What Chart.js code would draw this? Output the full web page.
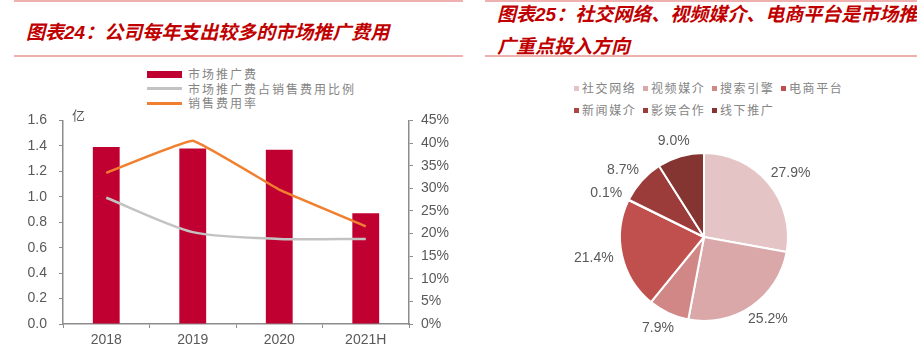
<!DOCTYPE html>
<html>
<head>
<meta charset="utf-8">
<script src="https://cdn.jsdelivr.net/npm/chart.js@4"></script>
<style>
  html, body { margin: 0; padding: 0; background: #fff; }
  body { width: 917px; height: 349px; position: relative; overflow: hidden; }
  .rule { position: absolute; height: 2px; background: #efb0b0; }
  .title {
    position: absolute; color: #c00000; font-size: 19px; line-height: 30px;
    font-family: "Noto Sans CJK SC", sans-serif; font-weight: 700; font-style: italic;
    white-space: nowrap;
  }
  .title b { font-family: "Liberation Sans", Arial, sans-serif; }
  canvas { position: absolute; }
  .legend {
    position: absolute; font-family: "Noto Sans CJK SC", sans-serif; font-size: 12px;
    color: #858585; letter-spacing: 2px;
  }
  #legend1 div { height: 14.5px; line-height: 14.5px; display: flex; align-items: center; }
  #legend1 i { display: inline-block; width: 35px; margin-right: 6px; }
  #legend2 { width: 300px; }
  #legend2 span { display: inline-block; width: 69px; height: 22px; line-height: 22px; white-space: nowrap; letter-spacing: 1.6px; }
  #legend2 i { display: inline-block; width: 5px; height: 5px; margin-right: 3px; vertical-align: 2px; }
</style>
</head>
<body>
<div class="rule" style="left:14px;top:0;width:449px"></div>
<div class="rule" style="left:485px;top:0;width:432px"></div>
<div class="rule" style="left:14px;top:55px;width:449px"></div>
<div class="rule" style="left:485px;top:55px;width:432px"></div>

<div class="title" style="left:26px;top:16px">图表<b>24</b>：公司每年支出较多的市场推广费用</div>
<div class="title" style="left:497px;top:-2px">图表<b>25</b>：社交网络、视频媒介、电商平台是市场推<br>广重点投入方向</div>

<div class="legend" id="legend1" style="left:147px;top:67px"></div>
<canvas id="combo" width="460" height="249" style="left:0;top:100px"></canvas>

<div class="legend" id="legend2" style="left:574px;top:77px"></div>
<canvas id="pie" width="377" height="229" style="left:540px;top:120px"></canvas>

<script>
// 市场推广费（亿元）与两条费用率曲线
const years = ['2018', '2019', '2020', '2021H'];
const promoCost = [1.39, 1.38, 1.37, 0.87];
const promoShareOfSales = [27.9, 20.3, 18.8, 18.8];
const salesExpenseRate = [33.4, 40.5, 29.7, 21.6];

// 市场推广投放方向（%）
const channels = ['社交网络', '视频媒介', '搜索引擎', '电商平台', '新闻媒介', '影娱合作', '线下推广'];
const channelShare = [27.9, 25.2, 7.9, 21.4, 0.1, 8.7, 9.0];
const channelColors = ['#e4c4c5', '#daa8a9', '#d08785', '#c0504d', '#ad4542', '#9c3c3a', '#843431'];

const axisGray = '#8c8c8c';
const labelGray = '#595959';
const tickFont = { family: '"Liberation Sans", Arial, sans-serif', size: 14 };

// 左轴单位
const unitLabel = {
  id: 'unitLabel',
  afterDraw(chart) {
    const { ctx, chartArea } = chart;
    ctx.save();
    ctx.fillStyle = labelGray;
    ctx.font = '13px "Noto Sans CJK SC"';
    ctx.textBaseline = 'middle';
    ctx.fillText('亿', chartArea.left + 9, chartArea.top - 5);
    ctx.restore();
  }
};

const combo = new Chart(document.getElementById('combo'), {
  type: 'bar',
  data: {
    labels: years,
    datasets: [
      {
        label: '市场推广费', data: promoCost, yAxisID: 'y',
        backgroundColor: '#c00030', order: 3,
        barPercentage: 0.31, categoryPercentage: 1
      },
      {
        type: 'line', label: '市场推广费占销售费用比例', data: promoShareOfSales, yAxisID: 'y1',
        borderColor: '#c3c3c3', borderWidth: 2.5, pointRadius: 0, tension: 0.25, order: 2
      },
      {
        type: 'line', label: '销售费用率', data: salesExpenseRate, yAxisID: 'y1',
        borderColor: '#f08030', borderWidth: 2.5, pointRadius: 0, tension: 0.08, order: 1
      }
    ]
  },
  options: {
    responsive: false,
    animation: false,
    layout: { padding: { top: 20, left: 0, right: 0, bottom: 0 } },
    plugins: { legend: { display: false }, tooltip: { enabled: false } },
    scales: {
      x: {
        grid: { drawOnChartArea: false, tickLength: 4, color: axisGray, offset: true },
        border: { color: axisGray, width: 1.5 },
        ticks: { color: labelGray, font: tickFont, padding: 4 },
        afterFit: s => { s.height = 25; }
      },
      y: {
        position: 'left', min: 0, max: 1.6,
        grid: { drawOnChartArea: false, tickLength: 4, color: axisGray },
        border: { color: axisGray, width: 1.5 },
        ticks: { stepSize: 0.2, color: labelGray, font: tickFont, padding: 12, callback: v => v.toFixed(1) },
        afterFit: s => { s.width = 63; }
      },
      y1: {
        position: 'right', min: 0, max: 45,
        grid: { drawOnChartArea: false, tickLength: 4, color: axisGray },
        border: { color: axisGray, width: 1.5 },
        ticks: { stepSize: 5, color: labelGray, font: tickFont, padding: 8, callback: v => v + '%' },
        afterFit: s => { s.width = 51; }
      }
    }
  },
  plugins: [unitLabel]
});

// 左图图例：柱、灰线、橙线
const legend1 = document.getElementById('legend1');
combo.data.datasets.forEach(ds => {
  const row = document.createElement('div');
  const sw = document.createElement('i');
  const isBar = !ds.type;
  sw.style.height = isBar ? '7px' : '3px';
  sw.style.background = isBar ? ds.backgroundColor : ds.borderColor;
  row.appendChild(sw);
  row.appendChild(document.createTextNode(ds.label));
  legend1.appendChild(row);
});

// 饼图外侧百分比标签
const outsideLabels = {
  id: 'outsideLabels',
  afterDatasetsDraw(chart) {
    const { ctx } = chart;
    const meta = chart.getDatasetMeta(0);
    const values = chart.data.datasets[0].data;
    ctx.save();
    ctx.fillStyle = labelGray;
    ctx.font = '14px "Liberation Sans", Arial, sans-serif';
    ctx.textAlign = 'center';
    ctx.textBaseline = 'middle';
    meta.data.forEach((arc, i) => {
      const { x, y, startAngle, endAngle, outerRadius } = arc.getProps(['x', 'y', 'startAngle', 'endAngle', 'outerRadius'], true);
      const mid = (startAngle + endAngle) / 2;
      const text = values[i].toFixed(1) + '%';
      const w = ctx.measureText(text).width;
      const c = Math.cos(mid), s = Math.sin(mid);
      const r = outerRadius + 9;
      ctx.fillText(text, x + c * r + c * w / 2, y + s * r + s * 7);
    });
    ctx.restore();
  }
};

const pie = new Chart(document.getElementById('pie'), {
  type: 'pie',
  data: {
    labels: channels,
    datasets: [{
      data: channelShare,
      backgroundColor: channelColors,
      borderColor: '#ffffff',
      borderWidth: 2
    }]
  },
  options: {
    responsive: false,
    animation: false,
    layout: { padding: { left: 79, right: 128, top: 32, bottom: 27 } },
    plugins: { legend: { display: false }, tooltip: { enabled: false } }
  },
  plugins: [outsideLabels]
});

// 右图图例
const legend2 = document.getElementById('legend2');
channels.forEach((name, i) => {
  const item = document.createElement('span');
  const sw = document.createElement('i');
  sw.style.background = channelColors[i];
  item.appendChild(sw);
  item.appendChild(document.createTextNode(name));
  legend2.appendChild(item);
  if (i === 3) legend2.appendChild(document.createElement('br'));
});
</script>
</body>
</html>
